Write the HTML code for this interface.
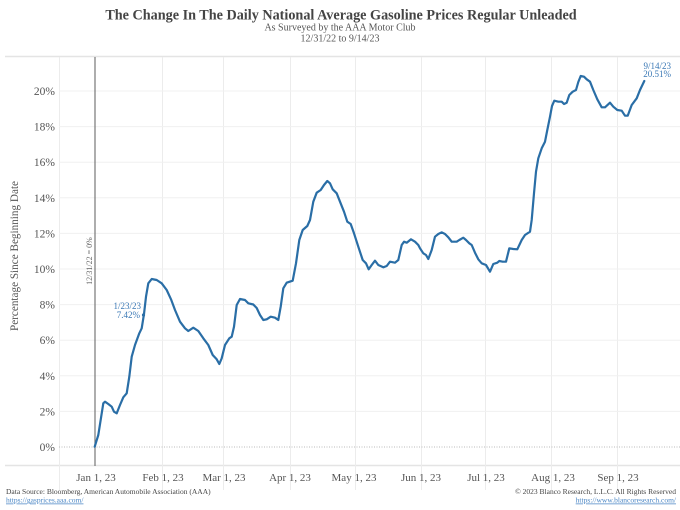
<!DOCTYPE html>
<html><head><meta charset="utf-8"><style>
html,body{margin:0;padding:0;background:#fff;}
svg{display:block;}
text{font-family:"Liberation Serif",serif;}
</style></head><body>
<svg width="680" height="510" viewBox="0 0 680 510" xmlns="http://www.w3.org/2000/svg">
<rect width="680" height="510" fill="#fff"/>
<text x="341" y="19.5" text-anchor="middle" font-size="14.2" font-weight="bold" fill="#444">The Change In The Daily National Average Gasoline Prices Regular Unleaded</text>
<text x="340" y="30.5" text-anchor="middle" font-size="10" fill="#555">As Surveyed by the AAA Motor Club</text>
<text x="340" y="41.5" text-anchor="middle" font-size="10" fill="#555">12/31/22 to 9/14/23</text>

<!-- frame lines -->
<line x1="5" y1="56.5" x2="680" y2="56.5" stroke="#e4e4e4" stroke-width="1.5"/>
<line x1="5" y1="465.5" x2="680" y2="465.5" stroke="#e4e4e4" stroke-width="1.5"/>
<!-- vertical gridlines -->
<g stroke="#ececec" stroke-width="1">
<line x1="59.5" y1="57" x2="59.5" y2="490"/>
<line x1="162.5" y1="57" x2="162.5" y2="490"/>
<line x1="223.5" y1="57" x2="223.5" y2="490"/>
<line x1="290.5" y1="57" x2="290.5" y2="490"/>
<line x1="355.5" y1="57" x2="355.5" y2="490"/>
<line x1="421.5" y1="57" x2="421.5" y2="490"/>
<line x1="485.5" y1="57" x2="485.5" y2="490"/>
<line x1="551.5" y1="57" x2="551.5" y2="490"/>
<line x1="617.5" y1="57" x2="617.5" y2="490"/>
</g>
<!-- horizontal gridlines -->
<g stroke="#f0f0f0" stroke-width="1">
<line x1="59" y1="411.4" x2="680" y2="411.4"/>
<line x1="59" y1="375.8" x2="680" y2="375.8"/>
<line x1="59" y1="340.2" x2="680" y2="340.2"/>
<line x1="59" y1="304.6" x2="680" y2="304.6"/>
<line x1="59" y1="269" x2="680" y2="269"/>
<line x1="59" y1="233.4" x2="680" y2="233.4"/>
<line x1="59" y1="197.8" x2="680" y2="197.8"/>
<line x1="59" y1="162.2" x2="680" y2="162.2"/>
<line x1="59" y1="126.6" x2="680" y2="126.6"/>
<line x1="59" y1="91" x2="680" y2="91"/>
</g>
<line x1="59" y1="447" x2="680" y2="447" stroke="#bbb" stroke-width="1" stroke-dasharray="1,1.5"/>
<!-- zero reference line -->
<line x1="95" y1="57" x2="95" y2="466" stroke="#777" stroke-width="1.2"/>
<text transform="translate(92,261) rotate(-90)" text-anchor="middle" font-size="8" fill="#666">12/31/22 = 0%</text>

<!-- y tick labels -->
<g font-size="11.5" fill="#555" text-anchor="end">
<text x="55" y="451">0%</text>
<text x="55" y="415.4">2%</text>
<text x="55" y="379.8">4%</text>
<text x="55" y="344.2">6%</text>
<text x="55" y="308.6">8%</text>
<text x="55" y="273">10%</text>
<text x="55" y="237.4">12%</text>
<text x="55" y="201.8">14%</text>
<text x="55" y="166.2">16%</text>
<text x="55" y="130.6">18%</text>
<text x="55" y="95">20%</text>
</g>
<text transform="translate(18,256) rotate(-90)" text-anchor="middle" font-size="11.2" fill="#555">Percentage Since Beginning Date</text>

<!-- x labels -->
<g font-size="11" fill="#555" text-anchor="middle">
<text x="96" y="481">Jan 1, 23</text>
<text x="163" y="481">Feb 1, 23</text>
<text x="224" y="481">Mar 1, 23</text>
<text x="290" y="481">Apr 1, 23</text>
<text x="354" y="481">May 1, 23</text>
<text x="421" y="481">Jun 1, 23</text>
<text x="486" y="481">Jul 1, 23</text>
<text x="553" y="481">Aug 1, 23</text>
<text x="618" y="481">Sep 1, 23</text>
</g>

<!-- series -->
<polyline fill="none" stroke="#2a6ea6" stroke-width="2.2" stroke-linejoin="round" stroke-linecap="round" points="
94.7,446.7 98.3,435 103.3,403.3 105,401.7 108.3,404 111.7,406.7 114,411.7 116.7,413.3 120,405 123.3,397.3 126.7,393.3 129.3,376.7 131.7,356.7 135,345 139.3,333.3 141.7,328.3 144,314 146,296.7 148.3,283.3 151.7,279 156.7,280 161.7,283.3 166.7,290 171,299.3 175,310 180,321.7 185,328.3 188.3,331 193.3,327.7 198.3,331 203.3,338.3 208.3,345 212.7,355 216.7,359.3 219.3,364 221.7,358.3 225,345 229.3,338.3 231.7,336.7 234,326.7 236.7,305 240,299 245,300 248.3,303.3 253.3,304.5 256.7,308 260,315 263.3,320 266.7,319.3 270.7,316.7 275,317.7 278.3,320 280.7,306.7 283.3,288.3 286.7,282.7 292.7,280.7 296,263.3 299.3,240 302.7,230 307.3,226 310,220 313.3,201.7 316.7,192.7 320.7,190 324,185 327.3,181 330,183.3 332.7,189.3 336.7,193.3 340,201.7 344,211.7 347.3,221.7 350.7,224 354,233.3 358.3,246.7 362.7,260 366,263.3 368.7,269.3 371.7,265 375,260.7 378.3,265 383.3,267.3 386.7,266 390,261.7 395,262.7 398.3,260 401.7,245 404,241.7 406.7,242.7 411,239.3 415,241.7 418.3,245 420,248.3 423.3,253.3 426,255 428.3,259 431.7,250 435,236.7 438.3,234 441.7,232.3 445,234 448.3,237.3 451.7,241.7 456.7,241.7 459.3,240 463.3,237.7 466,240 469.3,243.3 471.7,245 475,252.7 478.3,259.3 481.7,263.3 486,265 490,271.7 493.3,264 497.3,262.7 499.3,261 502.7,261.7 506,261.7 509.3,248.3 513.3,249 517.3,249.3 521.7,240 525,235 530,231.7 531.7,220 534,193.3 536,171.7 538.3,158.3 541.7,148.3 545,141.7 547.3,130 550,116.7 552,106 554.3,100.7 558.3,101.7 561.7,101.7 564,104 566.7,102.7 569.3,95 572.7,91.7 576,90 578.3,82 580.7,76 584,76.7 586.7,79.3 590,81.7 593.3,90 597.3,99.3 601.7,107.3 605,107.3 610,102.7 613.3,106.7 617.3,110 621.7,110.7 625,115.7 627.7,115.7 631.7,105 636.7,98.3 640,90 644.3,81"/>
<circle cx="143.5" cy="315" r="1.6" fill="#2a6ea6"/>

<!-- annotations -->
<g font-size="9" fill="#3a78b5" text-anchor="end">
<text x="141" y="309">1/23/23</text>
<text x="140" y="318">7.42%</text>
<text x="671" y="69">9/14/23</text>
<text x="671" y="77">20.51%</text>
</g>

<!-- footer -->
<g font-size="7.5">
<text x="6" y="494" fill="#444">Data Source: Bloomberg, American Automobile Association (AAA)</text>
<text x="6" y="502.5" fill="#4a86c5" text-decoration="underline">https://gasprices.aaa.com/</text>
<text x="676" y="494" fill="#444" text-anchor="end">© 2023 Blanco Research, L.L.C. All Rights Reserved</text>
<text x="676" y="502.5" fill="#4a86c5" text-anchor="end" text-decoration="underline">https://www.blancoresearch.com/</text>
</g>
</svg>
</body></html>
